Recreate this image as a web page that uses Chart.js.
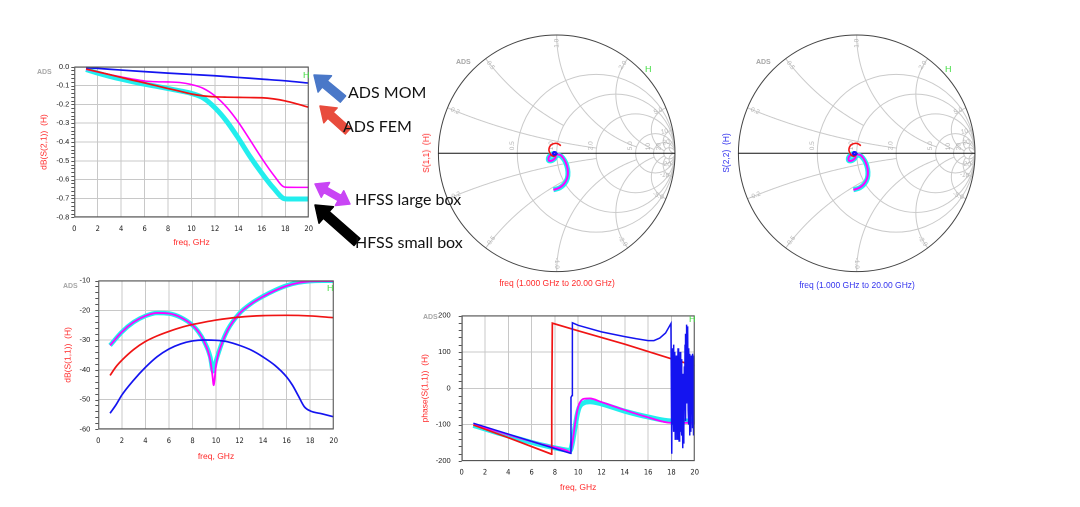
<!DOCTYPE html>
<html><head><meta charset="utf-8">
<script src="https://cdn.jsdelivr.net/npm/chart.js@4.4.1/dist/chart.umd.min.js"></script>
<style>
html,body{margin:0;padding:0;background:#fff;width:1080px;height:507px;overflow:hidden;position:relative;font-family:"Liberation Sans",Arial,sans-serif}
canvas{position:absolute}
.t{position:absolute;white-space:nowrap}
.ads{font-size:7px;line-height:8px;font-weight:bold;color:#a9a9a9}
.hh{font-size:9px;line-height:10px;color:#44dd44}
.foot{font-size:8.5px;line-height:10px;text-align:center;width:200px}
.rot{font-size:8.5px;line-height:10px;transform:translate(-50%,-50%) rotate(-90deg)}
.ann{font-family:Lato,"Open Sans",sans-serif;font-size:16px;line-height:20px;color:#111}
svg{position:absolute;left:0;top:0}
</style></head><body>
<canvas id="c1"></canvas>
<canvas id="c2"></canvas>
<canvas id="c3"></canvas>
<canvas id="c4"></canvas>
<canvas id="c5"></canvas>

<div class="t ads" style="left:37px;top:68px">ADS</div>
<div class="t hh" style="left:303px;top:70px">H</div>
<div class="t ads" style="left:63px;top:282px">ADS</div>
<div class="t hh" style="left:327px;top:283px">H</div>
<div class="t ads" style="left:423px;top:313px">ADS</div>
<div class="t hh" style="left:689px;top:314px">H</div>
<div class="t ads" style="left:456px;top:58px">ADS</div>
<div class="t hh" style="left:645px;top:64px">H</div>
<div class="t ads" style="left:756px;top:58px">ADS</div>
<div class="t hh" style="left:945px;top:64px">H</div>

<div class="t foot" style="left:457px;top:278px;color:#ff2a2a">freq (1.000 GHz to 20.00 GHz)</div>
<div class="t foot" style="left:757px;top:280px;color:#3333ee">freq (1.000 GHz to 20.00 GHz)</div>
<div class="t rot" style="left:426px;top:153px;color:#ff2a2a">S(1,1)&nbsp;&nbsp;(H)</div>
<div class="t rot" style="left:726px;top:153px;color:#3333ee">S(2,2)&nbsp;&nbsp;(H)</div>

<svg id="arrows" width="1080" height="507"></svg>
<div class="t ann" style="left:348px;top:82px">ADS MOM</div>
<div class="t ann" style="left:343px;top:116px">ADS FEM</div>
<div class="t ann" style="left:355px;top:189px">HFSS large box</div>
<div class="t ann" style="left:355px;top:232px">HFSS small box</div>

<script>
// ---------------- DATA ----------------
const FREQ_TICKS = [0,2,4,6,8,10,12,14,16,18,20];
const S21_TICKS = [-0.8,-0.7,-0.6,-0.5,-0.4,-0.3,-0.2,-0.1,0.0];
const S11_TICKS = [-60,-50,-40,-30,-20,-10];
const PHASE_TICKS = [-200,-100,0,100,200];

// dB(S(2,1))
const s21MomFreq = [1,2,4,6,8,10,12,14,16,18,20];
const s21Mom     = [-0.005,-0.009,-0.018,-0.026,-0.034,-0.041,-0.048,-0.057,-0.066,-0.075,-0.087];
const s21FemFreq = [1,2,3,4,5,6,7,8,9,10,11,12,13,14,15,16,17,18,19,20];
const s21Fem     = [-0.012,-0.027,-0.042,-0.057,-0.072,-0.086,-0.101,-0.116,-0.130,-0.145,-0.155,-0.160,-0.162,-0.163,-0.164,-0.165,-0.171,-0.182,-0.198,-0.216];
const s21LbFreq  = [1,2,3,4,5,6,7,8,9,10,11,12,13,14,15,16,17,18,19,20];
const s21Lb      = [-0.014,-0.028,-0.042,-0.054,-0.066,-0.076,-0.080,-0.081,-0.084,-0.095,-0.115,-0.155,-0.215,-0.295,-0.390,-0.487,-0.575,-0.640,-0.641,-0.641];
const s21SbFreq  = [1,2,3,4,5,6,7,8,9,10,11,12,13,14,15,16,17,18,19,20];
const s21Sb      = [-0.015,-0.034,-0.051,-0.066,-0.080,-0.093,-0.104,-0.116,-0.128,-0.142,-0.166,-0.218,-0.290,-0.380,-0.478,-0.566,-0.645,-0.702,-0.703,-0.703];

// dB(S(1,1))
const s11MomFreq = [1,1.5,2,3,4,5,6,7,8,9,10,11,12,13,14,15,16,16.5,17,17.5,18,19,20];
const s11Mom     = [-54.6,-51.8,-48.5,-43.5,-39.2,-35.6,-33.0,-31.3,-30.3,-30.0,-30.1,-30.6,-31.8,-33.4,-35.7,-38.5,-42.4,-45.2,-48.8,-52.4,-53.8,-54.8,-55.8];
const s11FemFreq = [1,1.5,2,3,4,5,6,7,8,9,10,12,14,16,18,20];
const s11Fem     = [-41.9,-39.0,-36.8,-33.2,-30.5,-28.6,-27.1,-25.8,-24.8,-24.0,-23.3,-22.3,-21.8,-21.7,-21.9,-22.5];
const s11LbFreq  = [1,2,3,4,5,6,7,8,8.5,9,9.5,9.7,9.8,9.9,10,10.5,11,12,13,14,15,16,17,18,19,20];
const s11Lb      = [-31.8,-27.3,-24.0,-21.9,-20.9,-21.1,-22.4,-25.0,-27.2,-30.6,-36.5,-42.0,-45.2,-42.5,-38.5,-31.2,-26.6,-21.1,-17.8,-15.4,-13.4,-11.8,-10.8,-10.3,-10.2,-10.2];
const s11SbFreq  = [1,2,3,4,5,6,7,8,8.5,9,9.5,9.75,10,10.5,11,12,13,14,15,16,17,18,19,20];
const s11Sb      = [-31.8,-27.3,-24.0,-21.9,-20.9,-21.1,-22.4,-25.0,-27.2,-30.5,-35.5,-40.5,-37.0,-31.0,-26.5,-21.0,-17.7,-15.3,-13.3,-11.7,-10.7,-10.2,-10.1,-10.1];

// phase(S(1,1))
const phMomFreq = [1,3,5,7,9.35,9.38,9.47,9.5,10,12,14,15,16,16.5,17,17.5,17.96,
  18.03,18.06,18.09,18.12,18.15,18.18,18.21,18.24,18.27,18.30,18.33,18.36,18.39,18.42,18.45,18.48,18.51,18.54,18.57,18.60,
  18.63,18.66,18.69,18.72,18.75,18.78,18.81,18.84,18.87,18.90,18.93,18.96,18.99,19.02,19.05,19.08,19.11,19.14,19.17,19.20,
  19.23,19.26,19.29,19.32,19.35,19.38,19.41,19.44,19.47,19.50,19.53,19.56,19.59,19.62,19.65,19.68,19.71,19.74,19.77,19.80,
  19.83,19.86,19.89,19.92,19.95,19.98,20.0];
const phMom     = [-96,-116,-136,-156,-179,-25,-20,180,173,155,142,136,131,131,138,152,178,
  -180,60,-100,110,-40,120,-120,40,-80,100,-140,20,-60,90,-110,50,-140,10,110,-90,
  30,-145,60,-50,100,-120,0,-100,80,-130,-20,-165,40,-150,20,-110,60,-60,120,-90,
  150,-40,175,30,170,-20,160,-60,110,-100,80,-130,95,-80,60,-120,90,-60,70,-110,
  95,-30,80,-130,90,-100,50];
const phFemFreq = [1,4,7.7,7.73,7.78,10,14,18,20];
const phFem     = [-101,-136,-181,-50,179,158,121,81,62];
const phLbFreq  = [1,3,5,7,9,9.3,9.5,9.7,9.9,10.1,10.5,11,12,14,16,18,19,20];
const phLb      = [-100,-118,-137,-155,-171,-176,-150,-105,-65,-42,-29,-28,-38,-60,-80,-95,-95,-95];
const phSbFreq  = [1,3,5,7,9,9.3,9.5,9.7,9.9,10.1,10.5,11,12,14,16,18,19,20];
const phSb      = [-102,-122,-140,-157,-170,-171,-150,-112,-75,-52,-40,-37,-43,-63,-79,-90,-90,-90];

// Smith chart traces (reflection coefficient, real / imaginary), 1 to 20 GHz
const smMomRe = [0.000,-0.003,-0.012,-0.024,-0.031,-0.032,-0.031,-0.023,-0.013,-0.005,-0.002,0.001,-0.001];
const smMomIm = [-0.002,-0.006,-0.012,-0.013,-0.006,0.000,0.004,0.011,0.010,0.006,0.000,-0.002,-0.002];
const smFemRe = [-0.001,-0.005,-0.011,-0.019,-0.028,-0.040,-0.051,-0.056,-0.058,-0.066,-0.060,-0.042,-0.014,0.013,0.035];
const smFemIm = [-0.008,-0.014,-0.019,-0.023,-0.025,-0.019,-0.012,0.000,0.004,0.028,0.054,0.075,0.084,0.080,0.064];
const smLbRe  = [-0.005,-0.014,-0.030,-0.048,-0.065,-0.070,-0.067,-0.053,-0.029,-0.013,0.001,0.014,0.023,0.041,0.066,0.086,0.095,0.088,0.065,0.025,-0.020,-0.028];
const smLbIm  = [-0.025,-0.041,-0.056,-0.064,-0.063,-0.049,-0.032,-0.016,-0.004,-0.009,-0.006,-0.012,-0.012,-0.022,-0.057,-0.105,-0.157,-0.210,-0.255,-0.290,-0.307,-0.310];
const smSbRe  = [-0.006,-0.016,-0.032,-0.050,-0.066,-0.071,-0.066,-0.052,-0.030,-0.017,-0.008,0.008,0.019,0.040,0.066,0.086,0.095,0.090,0.066,0.026,-0.018,-0.028];
const smSbIm  = [-0.025,-0.042,-0.057,-0.064,-0.062,-0.048,-0.031,-0.015,-0.004,-0.012,-0.012,-0.016,-0.017,-0.027,-0.060,-0.107,-0.158,-0.212,-0.258,-0.292,-0.306,-0.308];

const SMITH_R = [0.5,1,2,5,10,20];
const SMITH_X = [[0.2,2],[0.5,1],[1,5],[2,10],[5,20],[10,20],[20,1e6]];
const SMITH_R_LABELS = ['0.5','1.0','2.0','5.0','10','20'];
const SMITH_X_LABELS = ['0.2','0.5','1.0','2.0','5.0','10','20'];

// ---------------- STYLE ----------------
const C_MOM = '#1414f0', C_FEM = '#f01414', C_LB = '#ff00ff', C_SB = '#22eeee';
const AXIS_RED = '#ff2a2a';
Chart.defaults.font.family = '"Liberation Sans", Arial, sans-serif';

function pts(xs, ys){ return xs.map((x,i)=>({x:x, y:ys[i]})); }

const frame = {
  id:'frame',
  afterDatasetsDraw(chart, args, o){
    const {ctx, chartArea:a, scales} = chart;
    ctx.save();
    ctx.strokeStyle = '#555'; ctx.lineWidth = 1;
    ctx.strokeRect(a.left+0.5, a.top+0.5, a.right-a.left-1, a.bottom-a.top-1);
    const ys = scales.y, ticks = ys.ticks.map(t=>t.value);
    ctx.beginPath();
    for (let i=0;i<ticks.length;i++){
      const step = i<ticks.length-1 ? (ticks[i+1]-ticks[i])/o.minor : 0;
      for (let k=0;k<(i<ticks.length-1?o.minor:1);k++){
        const y = Math.round(ys.getPixelForValue(ticks[i]+k*step))+0.5;
        ctx.moveTo(a.left-3, y); ctx.lineTo(a.left, y);
      }
    }
    ctx.stroke();
    ctx.restore();
  }
};

function lineChart(id, box, plot, cfg){
  const cv = document.getElementById(id);
  cv.width = box.w; cv.height = box.h;
  cv.style.left = box.x+'px'; cv.style.top = box.y+'px';
  cv.style.width = box.w+'px'; cv.style.height = box.h+'px';
  const yW = plot.l - box.x, xH = box.y + box.h - plot.b;
  return new Chart(cv, {
    type:'line',
    data:{datasets: cfg.sets.map(s=>({
      data: pts(s.x, s.y), borderColor: s.c, borderWidth: s.w, pointRadius:0,
      fill:false, cubicInterpolationMode: s.lin ? 'default' : 'monotone', tension: 0
    }))},
    options:{
      responsive:false, animation:false, events:[],
      devicePixelRatio: 2,
      layout:{padding:{left:0, top: plot.t - box.y, right: box.x + box.w - plot.r, bottom:0}},
      plugins:{legend:{display:false}, tooltip:{enabled:false}, frame:{minor: cfg.minor}},
      scales:{
        x:{type:'linear', min:0, max:20,
           afterBuildTicks: s=>{ s.ticks = FREQ_TICKS.map(v=>({value:v})); },
           afterFit: s=>{ s.height = xH; },
           grid:{color:'#c8c8c8', drawTicks:false, lineWidth:1},
           border:{display:false},
           ticks:{autoSkip:false, maxRotation:0, padding:7, color:'#222',
                  font:{size:7.5, family:'"Liberation Sans Narrow","DejaVu Sans Condensed",Arial'}},
           title:{display:true, text:'freq, GHz', color:AXIS_RED, font:{size:8.5}, padding:0}},
        y:{type:'linear', min:cfg.ymin, max:cfg.ymax,
           afterBuildTicks: s=>{ s.ticks = cfg.yticks.map(v=>({value:v})); },
           afterFit: s=>{ s.width = yW; },
           grid:{color:'#c8c8c8', drawTicks:false, lineWidth:1},
           border:{display:false},
           ticks:{autoSkip:false, padding:cfg.ypad, color:'#222', font:{size:7.5},
                  callback: v => cfg.fmt(v)},
           title:{display:true, text:cfg.ytitle, color:AXIS_RED, font:{size:8.5}, padding:0}}
      }
    },
    plugins:[frame]
  });
}

// top-left: dB(S(2,1))
lineChart('c1', {x:39,y:55,w:281,h:193}, {l:74.3,t:66.7,r:311.7,b:217.3}, {
  ymin:-0.8, ymax:0, yticks:S21_TICKS, ypad:5, minor:5, fmt:v=>v.toFixed(1),
  ytitle:'dB(S(2,1))  (H)',
  sets:[
    {x:s21MomFreq, y:s21Mom, c:C_MOM, w:1.7},
    {x:s21FemFreq, y:s21Fem, c:C_FEM, w:1.7},
    {x:s21LbFreq,  y:s21Lb,  c:C_LB,  w:1.6},
    {x:s21SbFreq,  y:s21Sb,  c:C_SB,  w:5}
  ]});

// bottom-left: dB(S(1,1))
lineChart('c2', {x:63,y:268,w:282,h:194}, {l:98.3,t:280,r:335.3,b:429.3}, {
  ymin:-60, ymax:-10, yticks:S11_TICKS, ypad:8, minor:5, fmt:v=>String(v),
  ytitle:'dB(S(1,1))  (H)',
  sets:[
    {x:s11MomFreq, y:s11Mom, c:C_MOM, w:1.7},
    {x:s11FemFreq, y:s11Fem, c:C_FEM, w:1.7},
    {x:s11LbFreq,  y:s11Lb,  c:C_LB,  w:1.8},
    {x:s11SbFreq,  y:s11Sb,  c:C_SB,  w:4.5}
  ]});

// bottom-middle: phase(S(1,1))
lineChart('c3', {x:420,y:300,w:286,h:193}, {l:461.7,t:311.7,r:698.3,b:461}, {
  ymin:-200, ymax:200, yticks:PHASE_TICKS, ypad:11, minor:5, fmt:v=>String(v),
  ytitle:'phase(S(1,1))  (H)',
  sets:[
    {x:phMomFreq, y:phMom, c:C_MOM, w:1.5, lin:true},
    {x:phFemFreq, y:phFem, c:C_FEM, w:1.7, lin:true},
    {x:phLbFreq,  y:phLb,  c:C_LB,  w:1.8},
    {x:phSbFreq,  y:phSb,  c:C_SB,  w:5}
  ]});

// ---------------- SMITH CHARTS ----------------
function gam(r, x){ const D=(r+1)*(r+1)+x*x; return [(r*r+x*x-1)/D, 2*x/D]; }

const smithGrid = {
  id:'smithGrid',
  beforeDatasetsDraw(chart){
    const {ctx, scales:{x:sx, y:sy}} = chart;
    const px = v=>sx.getPixelForValue(v), py = v=>sy.getPixelForValue(v);
    const cx = px(0), cy = py(0), R = px(1)-px(0);
    ctx.save();
    ctx.beginPath(); ctx.arc(cx,cy,R,0,2*Math.PI); ctx.clip();
    ctx.strokeStyle = '#cacaca'; ctx.lineWidth = 1;
    SMITH_R.forEach(r=>{
      ctx.beginPath(); ctx.arc(px(r/(1+r)), cy, R/(1+r), 0, 2*Math.PI); ctx.stroke();
    });
    SMITH_X.forEach(([xv, rmax])=>{
      [xv,-xv].forEach(x=>{
        ctx.beginPath();
        const smax = rmax/(1+rmax), N=160;
        for (let i=0;i<=N;i++){
          const s = smax*i/N, r = s/(1-s);
          const g = gam(r,x);
          if(i===0) ctx.moveTo(px(g[0]),py(g[1])); else ctx.lineTo(px(g[0]),py(g[1]));
        }
        ctx.stroke();
      });
    });
    ctx.restore();
    ctx.save();
    ctx.strokeStyle = '#444'; ctx.lineWidth = 1;
    ctx.beginPath(); ctx.arc(cx,cy,R,0,2*Math.PI); ctx.stroke();
    ctx.strokeStyle = '#111';
    ctx.beginPath(); ctx.moveTo(px(-1),cy); ctx.lineTo(px(1),cy); ctx.stroke();
    ctx.fillStyle = '#b4b4b4'; ctx.font = '6.5px "Liberation Sans", Arial';
    SMITH_R.forEach((r,i)=>{
      const gx = px((r-1)/(r+1));
      ctx.save(); ctx.translate(gx-2, cy-3); ctx.rotate(-Math.PI/2);
      ctx.textAlign='left'; ctx.textBaseline='bottom';
      ctx.fillText(SMITH_R_LABELS[i],0,0); ctx.restore();
    });
    SMITH_X.forEach(([xv],i)=>{
      [1,-1].forEach(sg=>{
        const x = sg*xv, D = x*x+1, gx=(x*x-1)/D, gy=2*x/D;
        const phi = Math.atan2(gy,gx);
        const rr = 0.93;
        ctx.save(); ctx.translate(px(gx*rr), py(gy*rr));
        let rot = -phi; if (Math.cos(phi) < 0) rot += Math.PI;
        ctx.rotate(rot);
        ctx.textAlign='center'; ctx.textBaseline='middle';
        ctx.fillText((sg<0?'-':'')+SMITH_X_LABELS[i],0,0); ctx.restore();
      });
    });
    ctx.restore();
  }
};

function smith(id, left){
  const cv = document.getElementById(id);
  const box = {x:left, y:30, w:260, h:250};
  cv.width = box.w; cv.height = box.h;
  cv.style.left = box.x+'px'; cv.style.top = box.y+'px';
  cv.style.width = box.w+'px'; cv.style.height = box.h+'px';
  const cxp = left + 126.7, cyp = 153.3, R = 118.3;
  const traces = [
    {re:smMomRe, im:smMomIm, c:C_MOM, w:2},
    {re:smFemRe, im:smFemIm, c:C_FEM, w:1.6},
    {re:smLbRe,  im:smLbIm,  c:C_LB,  w:2},
    {re:smSbRe,  im:smSbIm,  c:C_SB,  w:5}
  ];
  new Chart(cv, {
    type:'scatter',
    data:{datasets: traces.map(t=>({data: pts(t.re, t.im), showLine:true, borderColor:t.c,
      backgroundColor:t.c, borderWidth:t.w, pointRadius:0, tension:0.35, fill:false}))},
    options:{
      responsive:false, animation:false, events:[], devicePixelRatio:2,
      layout:{padding:{left: cxp-R-box.x, top: cyp-R-box.y, right: box.x+box.w-(cxp+R), bottom: box.y+box.h-(cyp+R)}},
      plugins:{legend:{display:false}, tooltip:{enabled:false}},
      scales:{x:{type:'linear',min:-1,max:1,display:false}, y:{type:'linear',min:-1,max:1,display:false}}
    },
    plugins:[smithGrid]
  });
}
smith('c4', 430);
smith('c5', 730);

// ---------------- ANNOTATION ARROWS ----------------
function arrow(tx,ty,hx,hy,sw,hw,hl,dbl){
  const dx=hx-tx, dy=hy-ty, L=Math.hypot(dx,dy), ux=dx/L, uy=dy/L, nx=-uy, ny=ux;
  const p=[]; const P=(a,b)=>p.push((tx+ux*a+nx*b).toFixed(1)+','+(ty+uy*a+ny*b).toFixed(1));
  if(dbl){ P(0,0); P(hl,hw/2); P(hl,sw/2); } else { P(0,sw/2); }
  P(L-hl,sw/2); P(L-hl,hw/2); P(L,0); P(L-hl,-hw/2); P(L-hl,-sw/2);
  if(dbl){ P(hl,-sw/2); P(hl,-hw/2); } else { P(0,-sw/2); }
  return p.join(' ');
}
const arrowsDef = [
  [343,99,314,75,8,21,14,false,'#4a78c8'],
  [348,131,320,106,8,20,14,false,'#e84c3d'],
  [315,184,350,204,6,17,12,true,'#c945f5'],
  [357,242,315,205,9,22,15,false,'#000000']
];
document.getElementById('arrows').innerHTML = arrowsDef.map(a=>
  `<polygon points="${arrow(a[0],a[1],a[2],a[3],a[4],a[5],a[6],a[7])}" fill="${a[8]}" stroke="${a[8]}" stroke-width="1.5" stroke-linejoin="round"/>`).join('');
</script>
</body></html>
